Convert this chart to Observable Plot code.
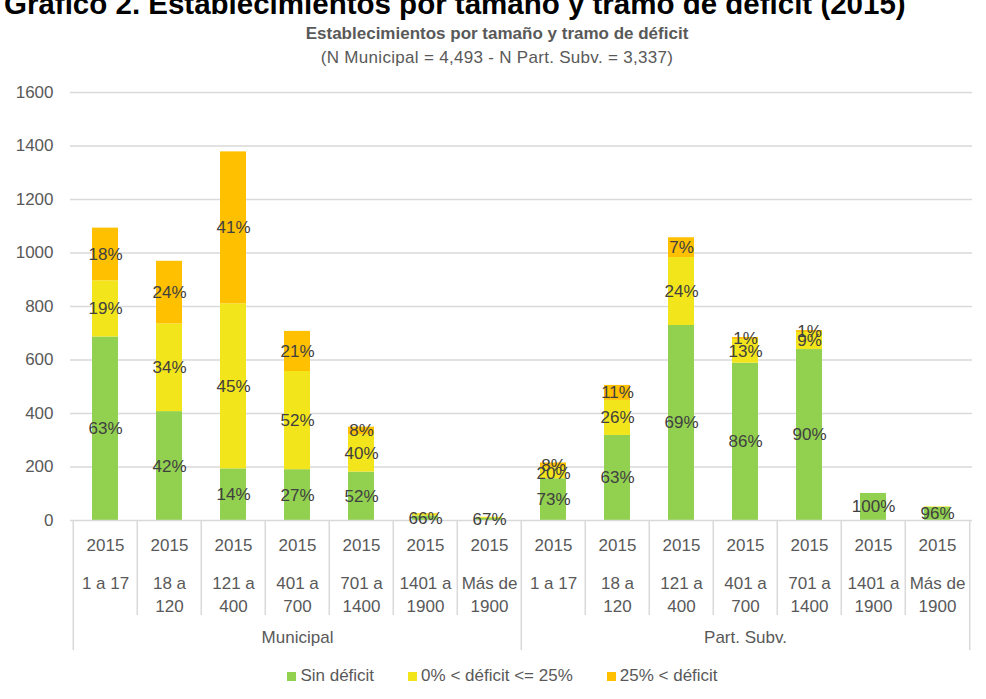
<!DOCTYPE html>
<html>
<head>
<meta charset="utf-8">
<script src="https://cdn.jsdelivr.net/npm/d3@7"></script>
<script src="https://cdn.jsdelivr.net/npm/@observablehq/plot@0.6"></script>
<style>
  html, body { margin: 0; padding: 0; background: #fff; }
  body { width: 986px; height: 699px; position: relative; overflow: hidden; font-family: "Liberation Sans", Arial, sans-serif; }
  #chart { position: absolute; left: 0; top: 0; }
  #title { position: absolute; left: 4px; top: -13px; font: bold 29.5px "Liberation Sans", Arial, sans-serif; color: #000; white-space: nowrap; z-index: 2; }
  #sub1 { position: absolute; left: 0; width: 994px; top: 24px; text-align: center; font: bold 17px "Liberation Sans", Arial, sans-serif; color: #595959; z-index: 2; }
  #sub2 { position: absolute; left: 0; width: 994px; top: 48px; text-align: center; font: 17px "Liberation Sans", Arial, sans-serif; letter-spacing: 0.3px; color: #595959; z-index: 2; }
  #legend { position: absolute; left: 0; width: 1005px; top: 666px; display: flex; justify-content: center; font: 17px "Liberation Sans", Arial, sans-serif; color: #595959; z-index: 2; }
  #legend .item { display: flex; align-items: center; margin: 0 17px; }
  #legend .sw { width: 9px; height: 9px; margin-right: 4px; }
</style>
</head>
<body>
<div id="chart"></div>
<div id="title">Gráfico 2. Establecimientos por tamaño y tramo de déficit (2015)</div>
<div id="sub1">Establecimientos por tamaño y tramo de déficit</div>
<div id="sub2">(N Municipal = 4,493 - N Part. Subv. = 3,337)</div>
<div id="legend"></div>
<script>
// ---- data ----
const groups = ["Municipal", "Part. Subv."];
const sizes = ["1 a 17", "18 a\n120", "121 a\n400", "401 a\n700", "701 a\n1400", "1401 a\n1900", "Más de\n1900"];
const year = "2015";
const series = ["Sin déficit", "0% < déficit <= 25%", "25% < déficit"];
const colors = ["#92D050", "#F2E51B", "#FFC000"];
// counts, Municipal (7) then Part. Subv. (7)
const sinDeficit  = [686, 407, 193, 190, 181, 17, 8,   156, 318, 729, 588, 639, 101, 49];
const deficitBajo = [210, 328, 617, 367, 140, 8, 4,    42, 131, 254, 89, 64, 0, 2];
const deficitAlto = [197, 234, 568, 150, 28, 1, 0,     17, 56, 74, 7, 7, 0, 0];
const pctSin  = ["63%", "42%", "14%", "27%", "52%", "66%", "67%", "73%", "63%", "69%", "86%", "90%", "100%", "96%"];
const pctBajo = ["19%", "34%", "45%", "52%", "40%", null, null, "20%", "26%", "24%", "13%", "9%", null, null];
const pctAlto = ["18%", "24%", "41%", "21%", "8%", null, null, "8%", "11%", "7%", "1%", "1%", null, null];
const yTicks = [0, 200, 400, 600, 800, 1000, 1200, 1400, 1600];

// ---- build table ----
const cats = [];
groups.forEach(g => sizes.forEach(s => cats.push({group: g, size: s, key: g + "|" + s})));
const valueSets = [sinDeficit, deficitBajo, deficitAlto];
const labelSets = [pctSin, pctBajo, pctAlto];
const rows = [];
cats.forEach((c, i) => {
  series.forEach((s, j) => {
    rows.push({key: c.key, series: s, value: valueSets[j][i], label: labelSets[j][i]});
  });
});
const keys = cats.map(c => c.key);
const firstKeys = groups.map(g => cats.find(c => c.group === g).key);
const innerKeys = keys.filter(k => !firstKeys.includes(k));
const groupCenterKeys = groups.map(g => cats.filter(c => c.group === g)[3].key);

const W = 986, H = 660, mL = 70, mR = 14, mT = 92, mB = 140;
const step = (W - mL - mR) / keys.length;
const gridColor = "#d9d9d9";
const textColor = "#595959";

const chart = Plot.plot({
  width: W, height: H,
  marginLeft: mL, marginRight: mR, marginTop: mT, marginBottom: mB,
  style: {fontFamily: "'Liberation Sans', Arial, sans-serif", fontSize: "17px", color: textColor, background: "transparent"},
  x: {type: "band", domain: keys, paddingInner: 0.6, paddingOuter: 0.3, axis: null},
  y: {domain: [0, 1600], axis: null},
  color: {domain: series, range: colors},
  marks: [
    Plot.ruleY(yTicks.slice(1), {stroke: gridColor, strokeWidth: 1.5}),
    Plot.axisY({ticks: yTicks, tickSize: 0, tickPadding: 17, tickFormat: d => String(d), label: null, fontSize: 17, fill: textColor}),
    Plot.barY(rows, Plot.stackY({x: "key", y: "value", z: "series", fill: "series"})),
    Plot.ruleY([0], {stroke: gridColor, strokeWidth: 1.5}),
    Plot.text(rows, Plot.stackY({x: "key", y: "value", z: "series", text: "label", fill: "#404040", fontSize: 17})),
    // table-style x axis
    Plot.ruleX(innerKeys, {x: d => d, dx: -step / 2, stroke: gridColor, strokeWidth: 1.5, insetTop: H - mT - mB, insetBottom: -95}),
    Plot.ruleX(firstKeys, {x: d => d, dx: -step / 2, stroke: gridColor, strokeWidth: 1.5, insetTop: H - mT - mB, insetBottom: -130}),
    Plot.ruleX([keys[keys.length - 1]], {x: d => d, dx: step / 2, stroke: gridColor, strokeWidth: 1.5, insetTop: H - mT - mB, insetBottom: -130}),
    Plot.text(keys, {x: d => d, text: () => year, frameAnchor: "bottom", lineAnchor: "middle", dy: 25, fill: textColor, fontSize: 17}),
    Plot.text(cats, {x: "key", text: "size", frameAnchor: "bottom", lineAnchor: "top", lineHeight: 1.41, dy: 51, fill: textColor, fontSize: 17}),
    Plot.text(groupCenterKeys, {x: d => d, text: (d) => d.split("|")[0], frameAnchor: "bottom", lineAnchor: "middle", dy: 117, fill: textColor, fontSize: 17})
  ]
});
document.getElementById("chart").appendChild(chart);

// legend
const legend = document.getElementById("legend");
series.forEach((s, i) => {
  const item = document.createElement("div");
  item.className = "item";
  const sw = document.createElement("span");
  sw.className = "sw";
  sw.style.background = colors[i];
  const t = document.createElement("span");
  t.textContent = s;
  item.appendChild(sw); item.appendChild(t);
  legend.appendChild(item);
});
</script>
</body>
</html>
